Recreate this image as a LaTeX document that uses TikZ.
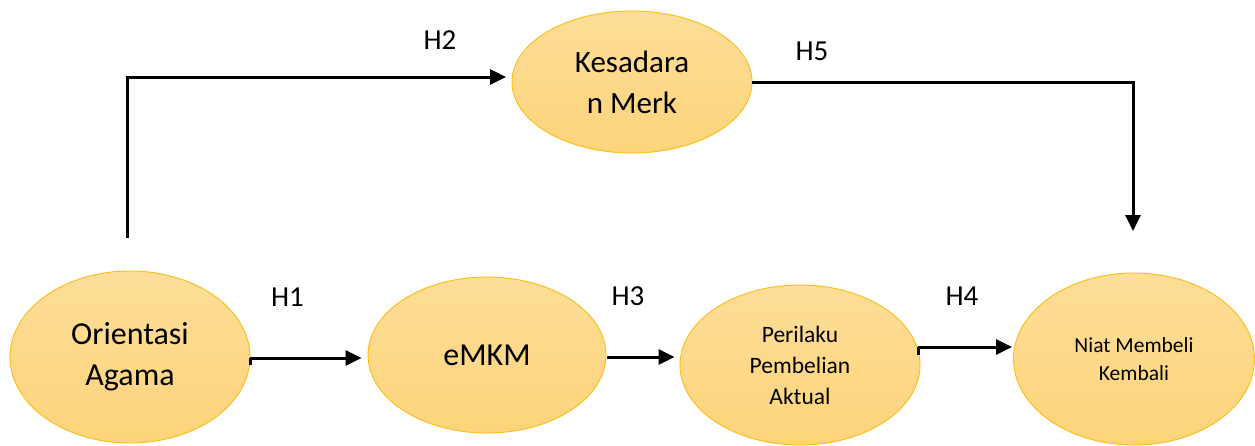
\documentclass[tikz,border=0pt]{standalone}
\usepackage{fontspec}
\setmainfont{Carlito}
\usetikzlibrary{shapes.geometric,arrows.meta}
\definecolor{ellfillT}{RGB}{253,221,152}
\definecolor{ellfillB}{RGB}{252,212,122}
\definecolor{elldraw}{RGB}{250,190,20}
\tikzset{
  var/.style={ellipse, draw=elldraw, line width=0.9pt, top color=ellfillT, bottom color=ellfillB,
    inner sep=0pt, align=center, text=black},
  arr/.style={line width=3pt, -{Triangle[length=16pt,width=15pt]}},
  hlab/.style={font=\fontsize{29}{33}\selectfont, inner sep=0pt},
}
\begin{document}
\begin{tikzpicture}[x=1pt,y=-1pt]
\useasboundingbox (0,0) rectangle (1255,445);
\node[var, minimum width=240pt, minimum height=172pt, font=\fontsize{32}{41}\selectfont] (oa) at (130,357) {Orientasi\\Agama};
\node[var, minimum width=238pt, minimum height=156pt, font=\fontsize{32}{41}\selectfont] (emkm) at (487,355) {eMKM};
\node[var, minimum width=240pt, minimum height=160pt, font=\fontsize{23.5}{31}\selectfont] (pba) at (800,365) {Perilaku\\Pembelian\\Aktual};
\node[var, minimum width=241pt, minimum height=172pt, font=\fontsize{21.5}{28.5}\selectfont] (nmk) at (1134,359) {Niat Membeli\\Kembali};
\node[var, minimum width=240pt, minimum height=142pt, font=\fontsize{31}{41}\selectfont] (km) at (632,82) {Kesadara\\n Merk};

\coordinate (h2s) at (127,238);
\coordinate (h2e) at (506,77);
\coordinate (h5e) at (1133,231);
\coordinate (h1s) at (250,358);
\coordinate (h3s) at (607,357);
\coordinate (h4s) at (918,347);

\draw[arr] (h1s) -- ([xshift=-6pt]emkm.west |- h1s);
\draw[arr] (h3s) -- ([xshift=-5pt]pba.west |- h3s);
\draw[arr] (h4s) -- ([xshift=-1pt]nmk.west |- h4s);
\draw[arr] (h2s) |- (h2e);
\draw[arr] (km.east) -| (h5e);
\draw[line width=3pt] (h1s) -- ++(0,7);
\draw[line width=3pt] (h4s) -- ++(0,8);

\node[hlab] (l1) at (287.5,297) {H1};
\node[hlab] (l2) at (440,40) {H2};
\node[hlab] (l3) at (628,296) {H3};
\node[hlab] (l4) at (962,296) {H4};
\node[hlab] (l5) at (812,51) {H5};
\end{tikzpicture}
\end{document}
